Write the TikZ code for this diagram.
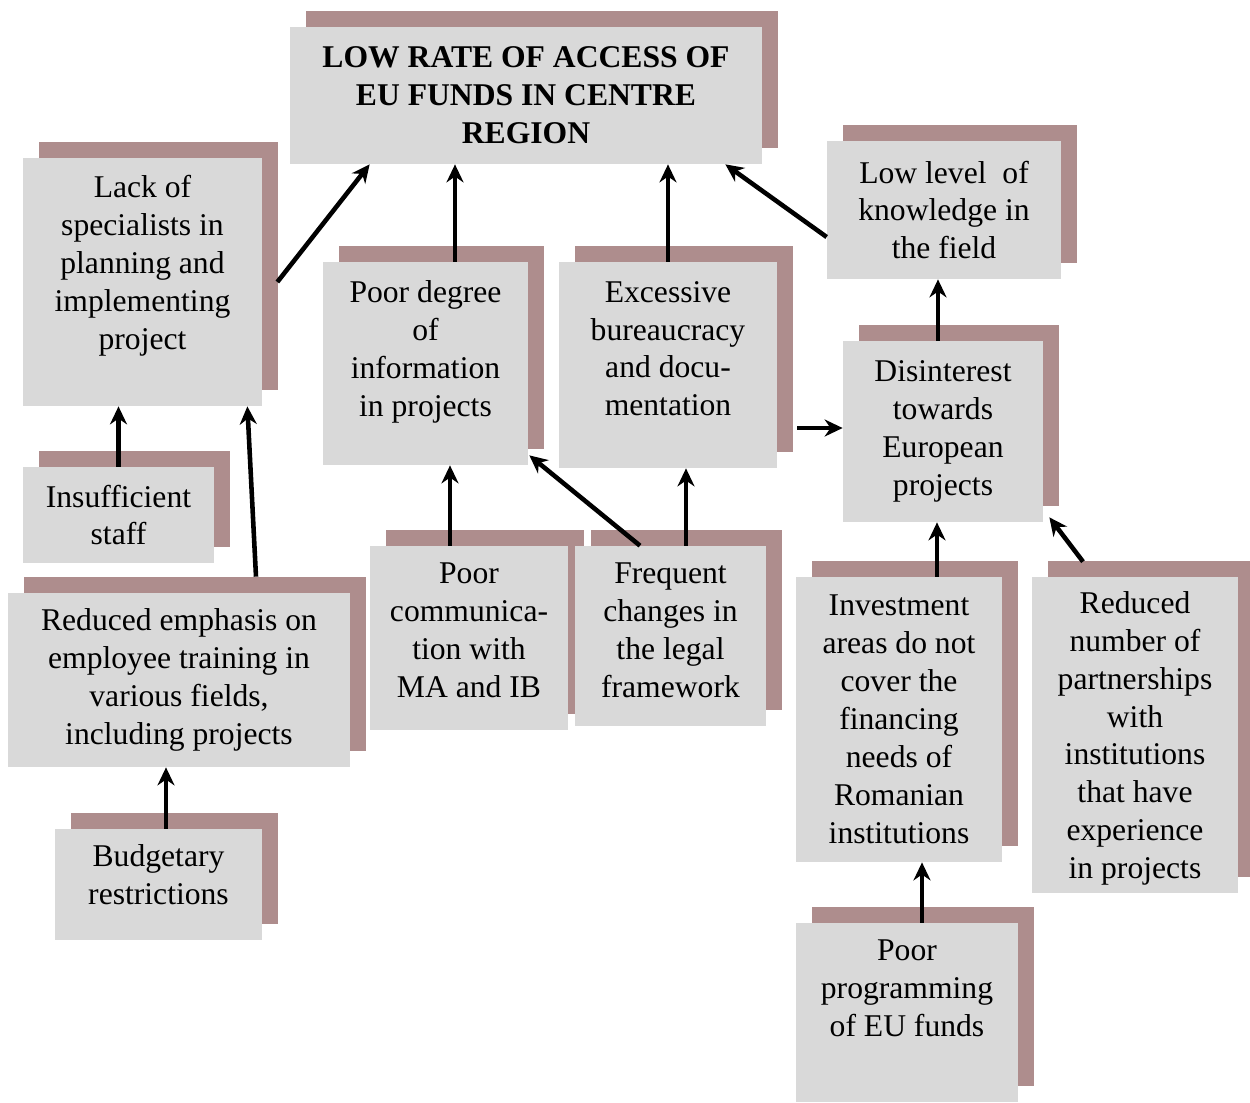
\documentclass[tikz,border=0pt]{standalone}
\usepackage{fontspec}
\setmainfont{Liberation Serif}
\usetikzlibrary{shadows,arrows.meta}
\definecolor{boxgrey}{RGB}{217,217,217}
\definecolor{shademauve}{RGB}{174,141,141}

\begin{document}
\begin{tikzpicture}[
        cause/.style={fill=boxgrey,align=center,inner sep=0pt,
            font=\fontsize{18}{21.6}\selectfont,
            drop shadow={shadow xshift=0.32cm,shadow yshift=0.32cm,fill=shademauve,opacity=1}},
        arr/.style={-{Stealth[length=0.36cm,width=0.34cm]},line width=2.6pt}]
    \useasboundingbox (0,0) rectangle (25,-22.04);

    % central problem
    \node[cause,font=\fontsize{18}{21.6}\selectfont\bfseries,minimum width=9.44cm,minimum height=2.74cm]
        (title) at (10.52,-1.91) {LOW RATE OF ACCESS OF\\EU FUNDS IN CENTRE\\REGION};

    % left branch
    \node[cause,minimum width=4.78cm,minimum height=4.96cm,text depth=0.8cm]
        (lack) at (2.85,-5.64) {Lack of\\specialists in\\planning and\\implementing\\project};
    \node[cause,minimum width=3.82cm,minimum height=1.92cm]
        (staff) at (2.37,-10.30) {Insufficient\\staff};
    \node[cause,minimum width=6.84cm,minimum height=3.48cm]
        (training) at (3.58,-13.60) {Reduced emphasis on\\employee training in\\various fields,\\including projects};
    \node[cause,minimum width=4.14cm,minimum height=2.22cm,text depth=0.4cm]
        (budget) at (3.17,-17.69) {Budgetary\\restrictions};

    % middle
    \node[cause,minimum width=4.10cm,minimum height=4.06cm,text depth=0.6cm]
        (info) at (8.51,-7.27) {Poor degree\\of\\information\\in projects};
    \node[cause,minimum width=4.36cm,minimum height=4.12cm,text depth=0.66cm]
        (bureau) at (13.36,-7.30) {Excessive\\bureaucracy\\and docu-\\mentation};
    \node[cause,minimum width=3.96cm,minimum height=3.68cm,text depth=0.3cm]
        (comm) at (9.38,-12.76) {Poor\\communica-\\tion with\\MA and IB};
    \node[cause,minimum width=3.82cm,minimum height=3.60cm,text depth=0.22cm]
        (legal) at (13.41,-12.72) {Frequent\\changes in\\the legal\\framework};

    % right branch
    \node[cause,minimum width=4.68cm,minimum height=2.76cm]
        (knowledge) at (18.88,-4.20) {Low level\ \ of\\knowledge in\\the field};
    \node[cause,minimum width=4.00cm,minimum height=3.62cm]
        (disinterest) at (18.86,-8.63) {Disinterest\\towards\\European\\projects};
    \node[cause,minimum width=4.12cm,minimum height=5.70cm]
        (invest) at (17.98,-14.39) {Investment\\areas do not\\cover the\\financing\\needs of\\Romanian\\institutions};
    \node[cause,minimum width=4.12cm,minimum height=6.32cm,text depth=0cm]
        (partner) at (22.70,-14.70) {Reduced\\number of\\partnerships\\with\\institutions\\that have\\experience\\in projects};
    \node[cause,minimum width=4.44cm,minimum height=3.58cm,text depth=0.96cm]
        (programming) at (18.14,-20.25) {Poor\\programming\\of EU funds};

    % arrows
    \draw[arr] (staff.north) -- (staff.north |- lack.south);
    \draw[arr] ([xshift=1.54cm,yshift=0.32cm]training.north) -- ([xshift=-0.3cm]lack.south east);
    \draw[arr] ([xshift=0.15cm]budget.north) -- ([xshift=0.15cm]budget.north |- training.south);
    \draw[arr] ([xshift=0.3cm]lack.east) -- ([xshift=1.6cm]title.south west);
    \draw[arr] ([xshift=0.59cm]info.north) -- ([xshift=0.59cm]info.north |- title.south);
    \draw[arr] (bureau.north) -- (bureau.north |- title.south);
    \draw[arr] ([yshift=-0.54cm]knowledge.west) -- ([xshift=-0.74cm]title.south east);
    \draw[arr] ([xshift=0.4cm,yshift=-1.26cm]bureau.east) -- ([yshift=-1.26cm]bureau.east -| disinterest.west);
    \draw[arr] ([xshift=-0.1cm]disinterest.north) -- ([xshift=-0.1cm]disinterest.north |- knowledge.south);
    \draw[arr] ([xshift=-0.38cm]comm.north) -- ([xshift=-0.38cm]comm.north |- info.south);
    \draw[arr] ([xshift=-0.61cm]legal.north) -- ([xshift=0.02cm,yshift=0.2cm]info.south east);
    \draw[arr] ([xshift=0.31cm]legal.north) -- ([xshift=0.31cm]legal.north |- bureau.south);
    \draw[arr] ([xshift=0.76cm]invest.north) -- ([xshift=0.76cm]invest.north |- disinterest.south);
    \draw[arr] ([xshift=-1.04cm,yshift=0.3cm]partner.north) -- ([xshift=0.12cm,yshift=0.1cm]disinterest.south east);
    \draw[arr] ([xshift=0.3cm]programming.north) -- ([xshift=0.3cm]programming.north |- invest.south);
\end{tikzpicture}
\end{document}
